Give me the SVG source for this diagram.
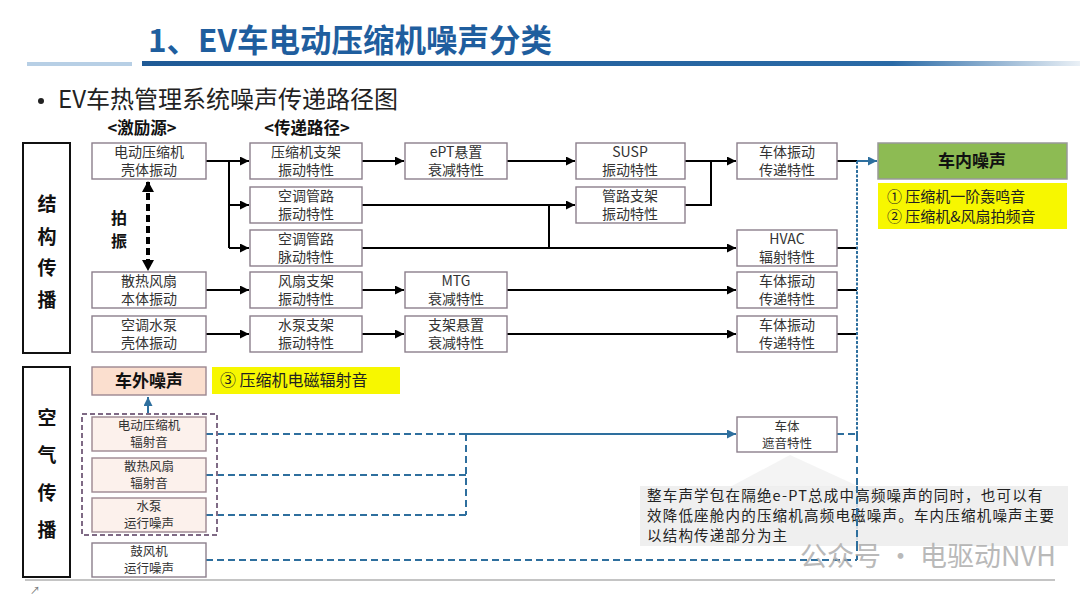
<svg xmlns="http://www.w3.org/2000/svg" width="1080" height="607" viewBox="0 0 1080 607">
<style>
.f{font-family:"Noto Sans CJK SC","Noto Sans",sans-serif}
.box{fill:#fff;stroke:#8c7f8c;stroke-width:1.4}
.pbox{fill:#fcf1ec;stroke:#9c8790;stroke-width:1.4}
.t{font-family:"Noto Sans CJK SC","Noto Sans",sans-serif;font-size:14px;fill:#333;text-anchor:middle}
.ts{font-family:"Noto Sans CJK SC","Noto Sans",sans-serif;font-size:12.5px;fill:#333;text-anchor:middle}
.cat{font-family:"Noto Sans CJK SC",sans-serif;font-size:19px;font-weight:bold;fill:#111;text-anchor:middle}
.ln{stroke:#000;stroke-width:2;fill:none}
.bl{stroke:#2e6f9e;stroke-width:2;fill:none}
.dl{stroke:#2e6f9e;stroke-width:2;fill:none;stroke-dasharray:7 4}
.nt{font-family:"Noto Sans CJK SC","Noto Sans",sans-serif;font-size:14.5px;fill:#222;letter-spacing:1.2px}
</style>
<defs>
<linearGradient id="g1" x1="0" x2="1" y1="0" y2="0">
<stop offset="0" stop-color="#1f5a96"/><stop offset="0.8" stop-color="#2a6aa6"/><stop offset="1" stop-color="#2a6aa6" stop-opacity="0.1"/>
</linearGradient>
<marker id="ab" markerUnits="userSpaceOnUse" markerWidth="9" markerHeight="9" refX="9" refY="4.5" orient="auto"><path d="M0,0 L9,4.5 L0,9 z" fill="#000"/></marker>
<marker id="au" markerUnits="userSpaceOnUse" markerWidth="9" markerHeight="9" refX="9" refY="4.5" orient="auto"><path d="M0,0 L9,4.5 L0,9 z" fill="#2e6f9e"/></marker>
<marker id="ak" markerUnits="userSpaceOnUse" markerWidth="12" markerHeight="12" refX="10" refY="6" orient="auto-start-reverse"><path d="M0,0 L11,6 L0,12 z" fill="#000"/></marker>
</defs>

<!-- header -->
<g id="header">
<text class="f" x="148" y="52" font-size="31.5" font-weight="bold" fill="#1f5e9e">1、EV车电动压缩机噪声分类</text>
<rect x="27" y="62" width="105" height="4" fill="#b7cfe5"/>
<rect x="142" y="61" width="938" height="5" fill="url(#g1)"/>
<circle cx="41" cy="101" r="3" fill="#222"/>
<text class="f" x="58" y="108" font-size="24" fill="#222">EV车热管理系统噪声传递路径图</text>
<text class="f" x="142" y="134" font-size="16.5" font-weight="bold" fill="#111" text-anchor="middle">&lt;激励源&gt;</text>
<text class="f" x="307" y="134" font-size="16.5" font-weight="bold" fill="#111" text-anchor="middle">&lt;传递路径&gt;</text>
</g>

<!-- category boxes -->
<g id="cat-struct">
<rect x="23" y="143" width="47" height="210" fill="#fff" stroke="#111" stroke-width="2"/>
<text class="cat" x="47" y="211">结</text>
<text class="cat" x="47" y="244">构</text>
<text class="cat" x="47" y="275">传</text>
<text class="cat" x="47" y="307">播</text>
</g>
<g id="cat-air">
<rect x="23" y="367" width="47" height="210" fill="#fff" stroke="#111" stroke-width="2"/>
<text class="cat" x="47" y="425">空</text>
<text class="cat" x="47" y="462">气</text>
<text class="cat" x="47" y="500">传</text>
<text class="cat" x="47" y="537">播</text>
</g>

<!-- connectors -->
<g id="connectors">
<path class="ln" d="M206,161 H249" marker-end="url(#ab)"/>
<path class="ln" d="M229,161 V248"/>
<path class="ln" d="M229,205 H249" marker-end="url(#ab)"/>
<path class="ln" d="M229,248 H249" marker-end="url(#ab)"/>
<path class="ln" d="M362,161 H404" marker-end="url(#ab)"/>
<path class="ln" d="M507,161 H575" marker-end="url(#ab)"/>
<path class="ln" d="M362,205 H575" marker-end="url(#ab)"/>
<path class="ln" d="M362,248 H736" marker-end="url(#ab)"/>
<path class="ln" d="M549,205 V248"/>
<path class="ln" d="M685,161 H736" marker-end="url(#ab)"/>
<path class="ln" d="M685,205 H711 V161"/>
<path class="ln" d="M206,290 H249" marker-end="url(#ab)"/>
<path class="ln" d="M362,290 H404" marker-end="url(#ab)"/>
<path class="ln" d="M507,290 H736" marker-end="url(#ab)"/>
<path class="ln" d="M206,334 H249" marker-end="url(#ab)"/>
<path class="ln" d="M362,334 H404" marker-end="url(#ab)"/>
<path class="ln" d="M507,334 H736" marker-end="url(#ab)"/>
<path class="ln" d="M837,161 H857"/>
<path class="ln" d="M837,248 H857"/>
<path class="ln" d="M837,290 H857"/>
<path class="ln" d="M837,334 H857"/>
<path class="bl" d="M857,161 H877" marker-end="url(#au)"/>
<path class="bl" d="M857,161 V434" stroke-dasharray="3 1.5"/>
<path class="dl" d="M857,434 V560"/>
<path class="dl" d="M206,434 H466"/>
<path class="dl" d="M206,475 H466"/>
<path class="dl" d="M206,515 H466"/>
<path class="dl" d="M466,434 V515"/>
<path class="bl" d="M466,434 H736" marker-end="url(#au)"/>
<path class="dl" d="M837,434 H857"/>
<path class="dl" d="M206,560 H857"/>
<path class="dl" d="M148,413 V397" stroke-dasharray="4 2" marker-end="url(#au)"/>
<path d="M148,182 V270" stroke="#000" stroke-width="4" stroke-dasharray="7 4" fill="none" marker-start="url(#ak)" marker-end="url(#ak)"/>
</g>
<text class="f" x="119" y="224" font-size="16" font-weight="bold" fill="#111" text-anchor="middle">拍</text>
<text class="f" x="119" y="247" font-size="16" font-weight="bold" fill="#111" text-anchor="middle">振</text>

<!-- column 1 sources -->
<g id="src-comp"><rect class="box" x="92" y="143" width="114" height="36"/><text class="t" x="149" y="157">电动压缩机</text><text class="t" x="149" y="175">壳体振动</text></g>
<g id="src-fan"><rect class="box" x="92" y="272" width="114" height="36"/><text class="t" x="149" y="286">散热风扇</text><text class="t" x="149" y="304">本体振动</text></g>
<g id="src-pump"><rect class="box" x="92" y="316" width="114" height="36"/><text class="t" x="149" y="330">空调水泵</text><text class="t" x="149" y="348">壳体振动</text></g>

<!-- column 2 -->
<g id="p-compbr"><rect class="box" x="250" y="143" width="112" height="36"/><text class="t" x="306" y="157">压缩机支架</text><text class="t" x="306" y="175">振动特性</text></g>
<g id="p-pipe-v"><rect class="box" x="250" y="187" width="112" height="36"/><text class="t" x="306" y="201">空调管路</text><text class="t" x="306" y="219">振动特性</text></g>
<g id="p-pipe-p"><rect class="box" x="250" y="230" width="112" height="36"/><text class="t" x="306" y="244">空调管路</text><text class="t" x="306" y="262">脉动特性</text></g>
<g id="p-fanbr"><rect class="box" x="250" y="272" width="112" height="36"/><text class="t" x="306" y="286">风扇支架</text><text class="t" x="306" y="304">振动特性</text></g>
<g id="p-pumpbr"><rect class="box" x="250" y="316" width="112" height="36"/><text class="t" x="306" y="330">水泵支架</text><text class="t" x="306" y="348">振动特性</text></g>

<!-- column 3 -->
<g id="p-ept"><rect class="box" x="405" y="143" width="102" height="36"/><text class="t" x="456" y="157">ePT悬置</text><text class="t" x="456" y="175">衰减特性</text></g>
<g id="p-mtg"><rect class="box" x="405" y="272" width="102" height="36"/><text class="t" x="456" y="286">MTG</text><text class="t" x="456" y="304">衰减特性</text></g>
<g id="p-mount"><rect class="box" x="405" y="316" width="102" height="36"/><text class="t" x="456" y="330">支架悬置</text><text class="t" x="456" y="348">衰减特性</text></g>

<!-- column 4 -->
<g id="p-susp"><rect class="box" x="576" y="143" width="109" height="36"/><text class="t" x="630" y="157">SUSP</text><text class="t" x="630" y="175">振动特性</text></g>
<g id="p-pipebr"><rect class="box" x="576" y="187" width="109" height="36"/><text class="t" x="630" y="201">管路支架</text><text class="t" x="630" y="219">振动特性</text></g>

<!-- column 5 -->
<g id="p-body1"><rect class="box" x="737" y="143" width="100" height="36"/><text class="t" x="787" y="157">车体振动</text><text class="t" x="787" y="175">传递特性</text></g>
<g id="p-hvac"><rect class="box" x="737" y="230" width="100" height="36"/><text class="t" x="787" y="244">HVAC</text><text class="t" x="787" y="262">辐射特性</text></g>
<g id="p-body2"><rect class="box" x="737" y="272" width="100" height="36"/><text class="t" x="787" y="286">车体振动</text><text class="t" x="787" y="304">传递特性</text></g>
<g id="p-body3"><rect class="box" x="737" y="316" width="100" height="36"/><text class="t" x="787" y="330">车体振动</text><text class="t" x="787" y="348">传递特性</text></g>
<g id="p-body-iso"><rect class="box" x="737" y="417" width="100" height="35"/><text class="ts" x="787" y="431">车体</text><text class="ts" x="787" y="448">遮音特性</text></g>

<!-- interior noise -->
<g id="interior-noise">
<rect x="878" y="143" width="189" height="36" fill="#8dbb53" stroke="#999" stroke-width="1.5"/>
<text class="f" x="972" y="167" font-size="17" font-weight="bold" fill="#111" text-anchor="middle">车内噪声</text>
</g>
<g id="interior-note">
<rect x="878" y="183" width="189" height="46" fill="#f7f700"/>
<text class="f" x="887" y="202" font-size="15" fill="#222">① 压缩机一阶轰鸣音</text>
<text class="f" x="887" y="222" font-size="15" fill="#222">② 压缩机&amp;风扇拍频音</text>
</g>

<!-- exterior noise -->
<g id="exterior-noise">
<rect x="92" y="367" width="114" height="28" fill="#fbdfcf" stroke="#9c8790" stroke-width="1.4"/>
<text class="f" x="149" y="387" font-size="17" font-weight="bold" fill="#111" text-anchor="middle">车外噪声</text>
</g>
<g id="exterior-note">
<rect x="212" y="367" width="188" height="27" fill="#f7f700"/>
<text class="f" x="220" y="386" font-size="16" fill="#222">③ 压缩机电磁辐射音</text>
</g>

<!-- airborne sources -->
<rect x="82" y="414" width="135" height="121" fill="none" stroke="#7f6a85" stroke-width="2" stroke-dasharray="5 3"/>
<g id="air-comp"><rect class="pbox" x="92" y="417" width="114" height="34"/><text class="ts" x="149" y="430">电动压缩机</text><text class="ts" x="149" y="447">辐射音</text></g>
<g id="air-fan"><rect class="pbox" x="92" y="458" width="114" height="34"/><text class="ts" x="149" y="471">散热风扇</text><text class="ts" x="149" y="488">辐射音</text></g>
<g id="air-pump"><rect class="pbox" x="92" y="498" width="114" height="34"/><text class="ts" x="149" y="511">水泵</text><text class="ts" x="149" y="528">运行噪声</text></g>
<g id="air-blower"><rect class="box" x="92" y="543" width="114" height="34"/><text class="ts" x="149" y="556">鼓风机</text><text class="ts" x="149" y="573">运行噪声</text></g>

<!-- note -->
<g id="note">
<polygon points="790,455 730,487 860,487" fill="#ececec" opacity="0.6"/>
<rect x="640" y="486" width="428" height="60" fill="#ececec" opacity="0.85"/>
<text class="nt" x="647" y="501">整车声学包在隔绝e-PT总成中高频噪声的同时，也可以有</text>
<text class="nt" x="647" y="521">效降低座舱内的压缩机高频电磁噪声。车内压缩机噪声主要</text>
<text class="nt" x="647" y="541">以结构传递部分为主</text>
<path class="bl" d="M857,486 V546" stroke-dasharray="7 4"/>
</g>
<text class="f" x="800" y="566" font-size="27" fill="#a8a8a8" opacity="0.8">公众号 · 电驱动NVH</text>
<path d="M25,580 H1055" stroke="#8a8a8a" stroke-width="1.2"/>
<text class="f" x="30" y="594" font-size="10" fill="#777">↗</text>
</svg>
